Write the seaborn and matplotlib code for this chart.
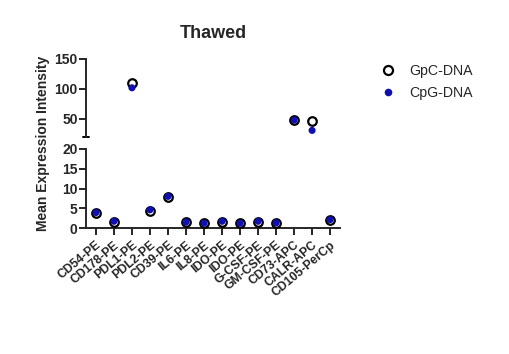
import numpy as np
import pandas as pd
from matplotlib import pyplot as plt
from matplotlib.lines import Line2D
import seaborn as sns

sns.set_style('white')
plt.rcParams['font.family'] = ['Liberation Sans', 'DejaVu Sans']

markers = ['CD54-PE', 'CD178-PE', 'PDL1-PE', 'PDL2-PE', 'CD39-PE', 'IL6-PE', 'IL8-PE',
           'IDO-PE', 'IDO-PE', 'G-CSF-PE', 'GM-CSF-PE', 'CD73-APC', 'CALR-APC', 'CD105-PerCp']
gpc = [3.8, 1.6, 110, 4.4, 7.9, 1.5, 1.2, 1.6, 1.2, 1.6, 1.3, 48, 47, 2.0]
cpg = [3.9, 1.7, 102, 4.6, 8.0, 1.5, 1.2, 1.7, 1.2, 1.7, 1.3, 48, 31, 2.1]

df = pd.DataFrame({'pos': np.arange(len(markers)), 'marker': markers, 'GpC': gpc, 'CpG': cpg})

blue = '#1010b0'
fig = plt.figure(figsize=(5.1, 3.54), dpi=100)
ax_top = fig.add_axes([86/510, 1-137/354, 254/510, 78/354])
ax_bot = fig.add_axes([86/510, 1-228/354, 254/510, 79/354])

for ax in (ax_top, ax_bot):
    sns.scatterplot(data=df, x='pos', y='GpC', ax=ax, s=38, facecolor='white',
                    edgecolor='black', linewidth=1.6, zorder=3)
    sns.scatterplot(data=df, x='pos', y='CpG', ax=ax, s=26, color=blue,
                    edgecolor='none', zorder=4)
    ax.set_xlim(-0.55, 13.55)
    ax.set_xlabel('')
    ax.set_ylabel('')
    for s in ['top', 'right']:
        ax.spines[s].set_visible(False)
    ax.spines['left'].set_linewidth(1.4)
    ax.spines['bottom'].set_linewidth(1.4)
    ax.tick_params(axis='y', direction='out', length=5, width=1.4, left=True,
                   labelsize=10, pad=1)

ax_top.set_ylim(20, 150)
ax_top.set_yticks([50, 100, 150])
ax_top.set_yticklabels(['50', '100', '150'], fontweight='bold')
ax_top.spines['bottom'].set_visible(False)
ax_top.set_xticks([])
ax_top.plot([-0.012, 0.012], [0, 0], transform=ax_top.transAxes, color='black',
            lw=1.4, clip_on=False)

ax_bot.set_ylim(0, 20)
ax_bot.set_yticks([0, 5, 10, 15, 20])
ax_bot.set_yticklabels(['0', '5', '10', '15', '20'], fontweight='bold')
ax_bot.set_xticks(df['pos'])
ax_bot.set_xticklabels(markers, rotation=40, ha='right', rotation_mode='anchor',
                       fontweight='bold', fontsize=8.8)
ax_bot.tick_params(axis='x', direction='out', length=5, width=1.4, bottom=True, pad=3)

fig.text(213/510, 1-33/354, 'Thawed', ha='center', va='center', fontsize=13,
         fontweight='bold')
fig.text(43/510, 1-143/354, 'Mean Expression Intensity', ha='center', va='center',
         rotation=90, fontsize=10, fontweight='bold')

handles = [Line2D([], [], marker='o', ls='', markerfacecolor='white', markeredgecolor='black',
                  markeredgewidth=1.6, markersize=6.5, label='GpC-DNA'),
           Line2D([], [], marker='o', ls='', markerfacecolor=blue, markeredgecolor='none',
                  markersize=5.5, label='CpG-DNA')]
fig.legend(handles=handles, loc='upper left', bbox_to_anchor=(361/510, 1-51/354),
           frameon=False, fontsize=10.2, handletextpad=0.5, labelspacing=0.55)

fig.savefig('out.png', dpi=100)
